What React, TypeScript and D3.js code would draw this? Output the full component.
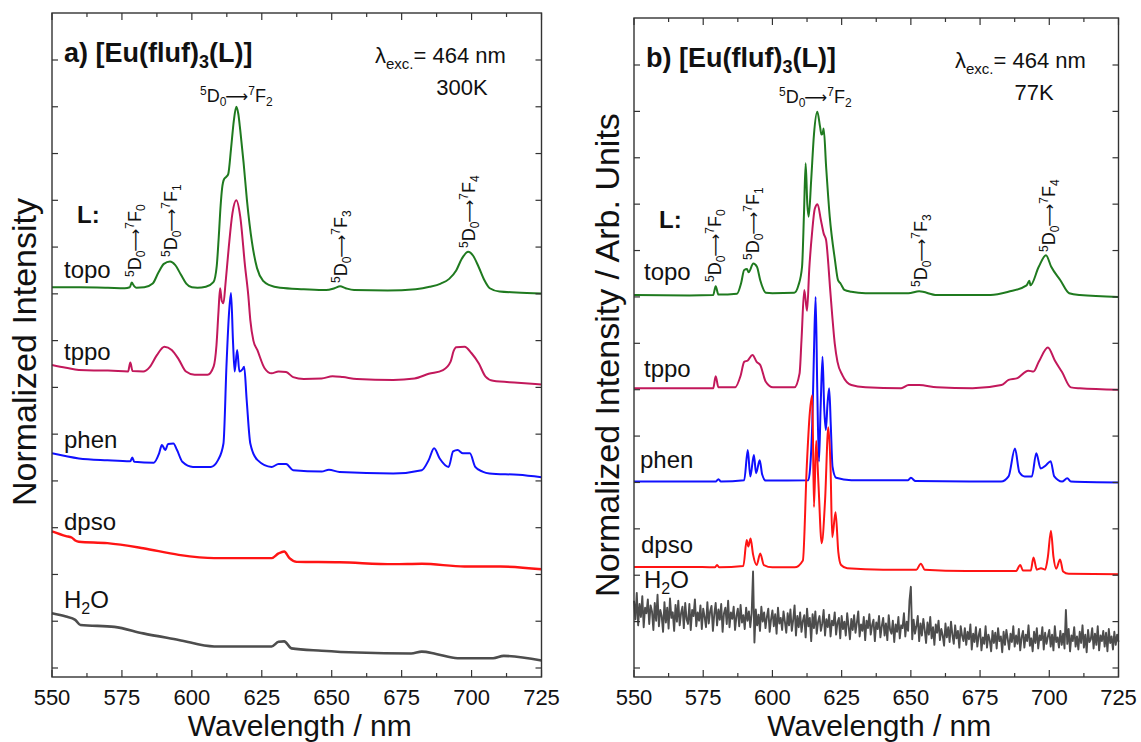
import React from "react";
import * as d3 from "d3";

type Pt = [number, number];

// axis ticks
const wavelengthTicks = [550, 575, 600, 625, 650, 675, 700, 725];
const wavelengthMinor = [562.5, 587.5, 612.5, 637.5, 662.5, 687.5, 712.5];
const intensityTicks = [0, 1, 2, 3, 4, 5, 6, 7, 8, 9, 10, 11, 12, 13];

const ligands = ["topo", "tppo", "phen", "dpso", "H2O"];
const ligandColors = ["#1f7a1f", "#c2185b", "#1010ff", "#ff1414", "#4d4d4d"];

// ---- panel a, 300 K (wavelength nm, offset intensity) ----
const topoA: Pt[] = [
  [550, 8.14], [560, 8.14], [570, 8.13], [576, 8.12], [577.8, 8.14], [578.5, 8.24], [579.3, 8.17],
  [580.2, 8.13], [583, 8.14], [586, 8.22], [588, 8.45], [590, 8.64], [592.2, 8.69], [594, 8.62],
  [596, 8.42], [598, 8.22], [600, 8.14], [602, 8.13], [605, 8.15], [607.7, 8.25], [608.9, 8.6],
  [609.6, 9.2], [610.3, 9.9], [610.8, 10.25], [611.5, 10.45], [612.3, 10.5], [613, 10.56], [614, 11.1],
  [615, 11.7], [615.9, 12.0], [616.6, 11.85], [617.3, 11.5], [618.5, 10.8], [619.7, 10.0], [621.5, 9.1],
  [623.3, 8.55], [625.6, 8.27], [628, 8.18], [631.6, 8.13], [640, 8.1], [648, 8.08], [651, 8.12],
  [653, 8.16], [655, 8.12], [658, 8.08], [670, 8.07], [680, 8.1], [685, 8.15], [689, 8.22], [692, 8.32],
  [694.5, 8.5], [696.5, 8.75], [698.8, 8.9], [700.5, 8.82], [702.5, 8.58], [704.5, 8.3], [706.5, 8.12],
  [710, 8.05], [716, 8.03], [725, 8.01],
];
const tppoA: Pt[] = [
  [550, 6.48], [555, 6.42], [559.6, 6.37], [565, 6.36], [570, 6.36], [577.2, 6.34], [578, 6.53],
  [578.8, 6.35], [582.6, 6.34], [585, 6.44], [587.5, 6.69], [590.2, 6.87], [592.8, 6.8], [595.3, 6.6],
  [597.9, 6.34], [601, 6.27], [605.6, 6.27], [607.8, 6.45], [608.8, 6.9], [609.5, 7.6], [610.1, 8.12],
  [610.7, 7.85], [611.3, 7.8], [612, 8.2], [613.2, 9.0], [614.5, 9.72], [615.9, 10.0], [617.3, 9.65],
  [619, 8.6], [620.2, 7.95], [620.9, 7.44], [622, 7.0], [623.4, 6.8], [626, 6.41], [628.5, 6.3],
  [631, 6.34], [633.7, 6.33], [636.2, 6.22], [640, 6.18], [646.4, 6.19], [650.3, 6.24], [654, 6.22],
  [659, 6.18], [672, 6.16], [679.6, 6.19], [684.7, 6.29], [689.8, 6.37], [692.5, 6.55], [693.6, 6.78],
  [694.5, 6.86], [697.5, 6.87], [700, 6.73], [702.6, 6.51], [705, 6.23], [707.7, 6.14], [716.5, 6.1],
  [725, 6.06],
];
const phenA: Pt[] = [
  [550, 4.59], [559.6, 4.48], [569.8, 4.44], [578, 4.42], [578.7, 4.5], [579.4, 4.41], [586.4, 4.39],
  [588.3, 4.59], [589.3, 4.77], [590.5, 4.66], [591.5, 4.79], [593.4, 4.8], [594.7, 4.66], [596.6, 4.41],
  [600.4, 4.3], [606.8, 4.3], [609.4, 4.45], [611.3, 4.8], [612.4, 6.5], [613.3, 7.6], [614, 8.02],
  [614.7, 7.0], [615.3, 6.34], [616.2, 6.8], [617, 6.34], [618, 6.38], [618.7, 6.44], [619.6, 5.73],
  [620.9, 4.8], [623.4, 4.45], [628.5, 4.3], [631, 4.36], [633.7, 4.36], [636.2, 4.23], [646.4, 4.2],
  [649, 4.24], [652.8, 4.19], [672, 4.16], [682.2, 4.23], [684.7, 4.45], [686.6, 4.7], [688.6, 4.48],
  [691.8, 4.3], [693.4, 4.63], [695, 4.66], [696.9, 4.59], [699.4, 4.59], [701.3, 4.3], [703.9, 4.2],
  [706.4, 4.16], [716.7, 4.13], [725, 4.08],
];
const dpsoA: Pt[] = [
  [550, 2.92], [555, 2.82], [557, 2.79], [558.5, 2.72], [559.6, 2.7], [569.8, 2.67], [582.6, 2.56],
  [595.3, 2.42], [608, 2.35], [620.9, 2.35], [628.5, 2.35], [631, 2.45], [633, 2.49], [634.9, 2.35],
  [637.5, 2.27], [652.8, 2.26], [672, 2.22], [682.2, 2.23], [697.5, 2.17], [710.3, 2.17], [725, 2.11],
];
const waterA: Pt[] = [
  [550, 1.17], [555, 1.1], [558.3, 1.03], [560.2, 0.92], [572.3, 0.88], [582.6, 0.74], [595.3, 0.6],
  [608, 0.46], [628.5, 0.46], [631, 0.56], [633, 0.57], [635.6, 0.42], [646.4, 0.37], [659.2, 0.33],
  [678.4, 0.31], [682.2, 0.35], [687.3, 0.3], [695, 0.21], [707.7, 0.21], [711.5, 0.26], [725, 0.16],
];

// ---- panel b, 77 K ----
const topoB: Pt[] = [
  [550, 8.04], [570, 8.03], [578.6, 8.04], [579.5, 8.23], [580.5, 8.05], [587.2, 8.07], [588.7, 8.3],
  [589.8, 8.58], [590.8, 8.6], [591.4, 8.53], [593.1, 8.72], [594.4, 8.65], [595.6, 8.36], [597.6, 8.09],
  [600, 8.08], [607.9, 8.09], [609.4, 8.25], [610.7, 8.65], [611.4, 9.8], [612, 10.88], [612.6, 10.0],
  [613.1, 9.73], [614, 10.52], [615, 11.5], [616.2, 11.99], [617.2, 11.67], [617.7, 11.5], [618.1, 11.52],
  [618.5, 11.63], [619.4, 10.8], [620.7, 9.73], [622.6, 8.79], [623.7, 8.36], [624.6, 8.29], [626, 8.15],
  [628.5, 8.11], [633.6, 8.08], [649.1, 8.08], [653, 8.12], [659.4, 8.04], [678.8, 8.04], [685.2, 8.11],
  [691.8, 8.25], [692.8, 8.35], [693.2, 8.25], [696.2, 8.65], [698.8, 8.9], [700.7, 8.65], [704, 8.36],
  [707.2, 8.08], [711, 8.04], [725, 8.0],
];
const tppoB: Pt[] = [
  [550, 6.03], [578.6, 6.03], [579.5, 6.29], [580.5, 6.05], [586.5, 6.05], [588.5, 6.3], [589.8, 6.6],
  [591.1, 6.63], [592.8, 6.75], [594.3, 6.6], [595.6, 6.53], [597.6, 6.17], [600.2, 6.05], [607.9, 6.05],
  [609.8, 6.35], [610.5, 7.07], [611.5, 8.15], [612.5, 7.7], [613.3, 8.6], [614.3, 9.37], [615.3, 9.9],
  [616.3, 10.0], [617.5, 9.66], [618.5, 9.37], [619.4, 9.22], [620.2, 8.7], [620.8, 8.2], [621.6, 7.6],
  [622.5, 7.0], [623.5, 6.6], [625.3, 6.31], [628.5, 6.1], [633.6, 6.05], [646.5, 6.03], [649.2, 6.1],
  [653, 6.1], [659.4, 6.05], [672.3, 6.03], [682.7, 6.1], [685.3, 6.21], [688.5, 6.25], [692.4, 6.41],
  [694.3, 6.39], [696.2, 6.6], [699.5, 6.91], [702, 6.63], [704.6, 6.38], [707.8, 6.05], [711, 6.03],
  [725, 6.0],
];
const phenB: Pt[] = [
  [550, 4.02], [579.5, 4.02], [580.5, 4.07], [581.4, 4.02], [589.8, 4.05], [591.1, 4.7], [592, 4.13],
  [593.3, 4.59], [594.1, 4.2], [595.4, 4.48], [596.3, 4.17], [597.6, 4.04], [613, 4.05], [613.6, 4.3],
  [614.4, 5.28], [615.0, 6.8], [615.6, 8.0], [616.2, 6.0], [616.8, 4.45], [617.4, 5.6], [618.1, 6.71],
  [618.7, 5.6], [619.3, 5.13], [619.9, 5.7], [620.5, 6.03], [621.1, 5.2], [621.7, 4.34], [623, 4.1],
  [628.5, 4.05], [649, 4.05], [650, 4.1], [651.7, 4.03], [682.6, 4.02], [685.3, 4.13], [687.6, 4.73],
  [689.2, 4.22], [691.1, 4.13], [693.7, 4.13], [695.3, 4.63], [696.9, 4.3], [698.8, 4.37], [700.5, 4.46],
  [701.8, 4.13], [704.6, 4.02], [706.5, 4.09], [707.8, 4.02], [725, 4.0],
];
const dpsoB: Pt[] = [
  [550, 2.18], [570, 2.18], [579.2, 2.17], [580, 2.22], [580.8, 2.17], [589.5, 2.2], [590.7, 2.76],
  [591.3, 2.62], [592.1, 2.79], [593, 2.45], [594.3, 2.22], [595.6, 2.47], [596.9, 2.22], [600, 2.17],
  [608, 2.17], [611, 2.32], [612.4, 4.34], [613.5, 5.5], [614.4, 5.88], [615.0, 3.47], [615.8, 4.9],
  [616.6, 4.0], [617.8, 2.69], [619.0, 3.6], [620.2, 5.19], [621.0, 4.3], [621.6, 2.82], [622.8, 3.36],
  [623.8, 2.5], [624.8, 2.22], [627, 2.15], [640, 2.12], [652, 2.12], [653.6, 2.25], [655, 2.12],
  [670, 2.09], [688, 2.09], [689.5, 2.22], [690.5, 2.1], [693.3, 2.1], [694.3, 2.38], [695.5, 2.12],
  [697, 2.15], [698.5, 2.12], [699.5, 2.4], [700.6, 2.96], [701.5, 2.4], [702.5, 2.14], [703.9, 2.34],
  [705, 2.08], [707, 2.03], [725, 2.02],
];
// H2O at 77 K: noisy trace, one reading every 0.5 nm from 550 to 725
const waterBValues = [
  1.45, 1.05, 1.62, 0.92, 1.38, 1.10, 1.55, 0.88, 1.30, 1.18,
  1.48, 0.95, 1.35, 1.22, 0.82, 1.40, 1.02, 1.58, 0.90, 1.25,
  1.12, 0.78, 1.42, 0.98, 1.30, 0.85, 1.50, 1.08, 1.20, 0.80,
  1.36, 1.00, 1.45, 0.92, 1.18, 1.32, 0.86, 1.40, 1.05, 0.95,
  1.38, 0.82, 1.25, 1.12, 1.48, 0.90, 1.20, 1.02, 1.35, 0.84,
  1.28, 1.10, 0.88, 1.42, 0.96, 1.22, 1.34, 0.80, 1.16, 1.40,
  0.92, 1.26, 1.04, 1.38, 0.78, 1.18, 1.30, 0.95, 1.45, 0.88,
  1.20, 1.06, 1.32, 0.82, 1.12, 1.28, 0.90, 1.36, 0.98, 1.14,
  0.84, 1.30, 1.02, 1.22, 0.88, 1.18, 2.08, 0.55, 1.26, 0.92,
  1.15, 0.80, 1.32, 1.00, 1.20, 0.86, 1.10, 1.28, 0.78, 1.05,
  1.24, 0.90, 1.16, 0.74, 1.30, 0.96, 1.08, 0.82, 1.22, 1.00,
  0.76, 1.18, 0.92, 1.26, 0.80, 1.04, 1.35, 0.70, 1.12, 0.88,
  1.20, 0.78, 1.02, 1.14, 0.66, 1.28, 0.90, 1.08, 0.58, 1.16,
  0.86, 1.22, 0.74, 1.00, 1.12, 0.80, 0.96, 1.25, 0.70, 1.05,
  0.88, 1.15, 0.68, 1.02, 0.92, 1.20, 0.72, 0.98, 1.08, 0.64,
  1.12, 0.84, 1.00, 0.70, 1.18, 0.90, 0.62, 1.06, 0.82, 1.14,
  0.76, 0.98, 1.22, 0.68, 0.94, 0.80, 1.10, 0.60, 1.02, 0.86,
  1.16, 0.72, 0.92, 1.04, 0.58, 0.98, 0.84, 1.12, 0.66, 0.90,
  1.08, 0.70, 0.96, 0.60, 1.14, 0.82, 0.74, 1.02, 0.56, 0.94,
  0.78, 1.10, 0.64, 0.92, 0.86, 1.18, 0.68, 1.00, 0.80, 1.45,
  1.75, 0.62, 1.04, 0.74, 0.90, 1.12, 0.58, 0.96, 0.70, 1.06,
  0.82, 0.54, 0.98, 0.72, 1.10, 0.64, 0.88, 0.50, 0.94, 0.76,
  1.02, 0.60, 0.84, 0.70, 0.48, 0.96, 0.66, 0.88, 0.56, 1.00,
  0.72, 0.52, 0.92, 0.64, 0.80, 0.44, 0.90, 0.70, 0.58, 0.86,
  0.50, 0.78, 0.62, 0.94, 0.40, 0.74, 0.56, 0.88, 0.46, 0.70,
  0.84, 0.38, 0.66, 0.52, 0.90, 0.44, 0.72, 0.60, 0.36, 0.80,
  0.54, 0.76, 0.42, 0.86, 0.58, 0.68, 0.34, 0.78, 0.50, 0.82,
  0.62, 0.40, 0.74, 0.56, 0.90, 0.46, 0.70, 0.52, 0.84, 0.38,
  0.66, 0.80, 0.44, 0.72, 0.58, 0.92, 0.48, 0.64, 0.36, 0.78,
  0.54, 0.86, 0.42, 0.70, 0.60, 0.88, 0.40, 0.76, 0.52, 0.68,
  0.82, 0.46, 0.72, 0.38, 0.90, 0.56, 0.66, 0.44, 0.80, 0.50,
  0.74, 0.42, 1.25, 0.52, 0.84, 0.36, 0.70, 0.58, 0.88, 0.46,
  0.68, 0.40, 0.78, 0.54, 0.92, 0.44, 0.72, 0.34, 0.82, 0.56,
  0.62, 0.86, 0.42, 0.74, 0.50, 0.90, 0.38, 0.70, 0.58, 0.80,
  0.46, 0.76, 0.36, 0.84, 0.54, 0.68, 0.40, 0.78, 0.50, 0.72,
  0.56,
];
const waterB: Pt[] = waterBValues.map((v, i) => [550 + i * 0.5, v]);

const FONT = "'Liberation Sans', Arial, Helvetica, sans-serif";

const Transition = ({ x, y, n, vertical }: { x: number; y: number; n: number; vertical?: boolean }) => (
  <text
    transform={`translate(${x},${y})${vertical ? " rotate(-90)" : ""}`}
    fontSize={18}
    textAnchor={vertical ? "start" : "middle"}
  >
    <tspan fontSize={12} dy={-7}>5</tspan>
    <tspan dy={7}>D</tspan>
    <tspan fontSize={12} dy={4}>0</tspan>
    <tspan dy={-4} dx={-1} fontFamily="'DejaVu Sans', sans-serif" fontSize={16}>⟶</tspan>
    <tspan fontSize={12} dy={-7}>7</tspan>
    <tspan dy={7}>F</tspan>
    <tspan fontSize={12} dy={4}>{n}</tspan>
  </text>
);

const Panel = ({ cfg }: { cfg: any }) => {
  const x = d3.scaleLinear().domain([550, 725]).range([cfg.left, cfg.right]);
  const y = d3.scaleLinear().domain([0, 13]).range([cfg.y0, cfg.y13]);
  const smooth = d3.line<Pt>().x((d) => x(d[0])).y((d) => y(d[1])).curve(d3.curveMonotoneX);
  const raw = d3.line<Pt>().x((d) => x(d[0])).y((d) => y(d[1]));

  return (
    <g fontFamily={FONT} fill="#111">
      {cfg.series.map((s: Pt[], i: number) => (
        <path
          key={i}
          d={(cfg.noisy[i] ? raw : smooth)(s) || ""}
          fill="none"
          stroke={ligandColors[i]}
          strokeWidth={cfg.widths[i]}
          strokeLinejoin="round"
        />
      ))}

      {/* frame */}
      <rect
        x={cfg.left}
        y={cfg.top}
        width={cfg.right - cfg.left}
        height={cfg.bottom - cfg.top}
        fill="none"
        stroke="#333"
        strokeWidth={1.4}
      />
      {wavelengthTicks.map((t) => (
        <g key={t}>
          <line x1={x(t)} x2={x(t)} y1={cfg.bottom} y2={cfg.bottom - 7} stroke="#333" strokeWidth={1.2} />
          <line x1={x(t)} x2={x(t)} y1={cfg.top} y2={cfg.top + 7} stroke="#333" strokeWidth={1.2} />
          <text x={x(t)} y={705} fontSize={22} textAnchor="middle">{t}</text>
        </g>
      ))}
      {wavelengthMinor.map((t) => (
        <g key={t}>
          <line x1={x(t)} x2={x(t)} y1={cfg.bottom} y2={cfg.bottom - 4} stroke="#333" strokeWidth={1.2} />
          <line x1={x(t)} x2={x(t)} y1={cfg.top} y2={cfg.top + 4} stroke="#333" strokeWidth={1.2} />
        </g>
      ))}
      {intensityTicks.map((t) => (
        <g key={t}>
          <line x1={cfg.left} x2={cfg.left + 6} y1={y(t)} y2={y(t)} stroke="#333" strokeWidth={1.2} />
          <line x1={cfg.right} x2={cfg.right - 6} y1={y(t)} y2={y(t)} stroke="#333" strokeWidth={1.2} />
        </g>
      ))}

      {/* titles */}
      <text x={(cfg.left + cfg.right) / 2 + 3} y={736} fontSize={30} textAnchor="middle">
        Wavelength / nm
      </text>
      <text
        transform={`translate(${cfg.yTitleX},${cfg.yTitleY}) rotate(-90)`}
        fontSize={34}
        textAnchor="middle"
      >
        {cfg.yTitle}
      </text>
      <text x={cfg.left + 12} y={cfg.titleY} fontSize={27} fontWeight="bold">
        {cfg.letter}) [Eu(fluf)<tspan fontSize={18} dy={6}>3</tspan>
        <tspan dy={-6}>(L)]</tspan>
      </text>
      <text x={cfg.lambdaX} y={cfg.lambdaY} fontSize={22}>
        λ<tspan fontSize={15} dy={6}>exc.</tspan>
        <tspan dy={-6}>= 464 nm</tspan>
      </text>
      <text x={cfg.tempX} y={cfg.lambdaY + 32} fontSize={22} textAnchor="middle">
        {cfg.temp}
      </text>
      <text x={cfg.left + 25} y={cfg.lY} fontSize={24} fontWeight="bold">L:</text>

      {/* ligand labels */}
      {ligands.map((name, i) => (
        <text key={name} x={cfg.left + cfg.labelDx[i]} y={cfg.labelY[i]} fontSize={24}>
          {name === "H2O" ? (
            <>
              H<tspan fontSize={16} dy={6}>2</tspan>
              <tspan dy={-6}>O</tspan>
            </>
          ) : (
            name
          )}
        </text>
      ))}

      {/* transitions */}
      <Transition x={x(cfg.f2[0])} y={cfg.f2[1]} n={2} />
      {cfg.rot.map((r: number[], i: number) => (
        <Transition key={i} x={x(r[0])} y={r[1]} n={[0, 1, 3, 4][i]} vertical />
      ))}
    </g>
  );
};

const panelA = {
  letter: "a",
  left: 52,
  right: 541.5,
  top: 13,
  bottom: 677,
  y0: 668,
  y13: 60,
  series: [topoA, tppoA, phenA, dpsoA, waterA],
  noisy: [false, false, false, false, false],
  widths: [2, 2, 2, 2.4, 2.6],
  yTitle: "Normalized Intensity",
  yTitleX: 36,
  yTitleY: 352,
  titleY: 62,
  lambdaX: 375,
  lambdaY: 63,
  tempX: 462,
  temp: "300K",
  lY: 223,
  labelDx: [12, 12, 12, 12, 12],
  labelY: [278, 360, 448, 530, 608],
  f2: [615.9, 102],
  rot: [
    [581.9, 277],
    [594.7, 257],
    [655.6, 283],
    [701.4, 248],
  ],
};

const panelB = {
  letter: "b",
  left: 634,
  right: 1118.5,
  top: 18,
  bottom: 677,
  y0: 668,
  y13: 65,
  series: [topoB, tppoB, phenB, dpsoB, waterB],
  noisy: [false, false, false, false, true],
  widths: [2, 2, 2, 2, 1.9],
  yTitle: "Normalized Intensity / Arb. Units",
  yTitleX: 619,
  yTitleY: 355,
  titleY: 67,
  lambdaX: 955,
  lambdaY: 68,
  tempX: 1034,
  temp: "77K",
  lY: 228,
  labelDx: [10, 10, 6, 7, 10],
  labelY: [280, 377, 468, 553, 588],
  f2: [615.5, 103],
  rot: [
    [581.4, 282],
    [595.1, 260],
    [655.8, 287],
    [702.0, 252],
  ],
};

export default function App() {
  return (
    <svg
      width={1141}
      height={742}
      viewBox="0 0 1141 742"
      style={{ position: "absolute", left: 0, top: 0, background: "#fff" }}
    >
      <rect width={1141} height={742} fill="#fff" />
      <Panel cfg={panelA} />
      <Panel cfg={panelB} />
    </svg>
  );
}
